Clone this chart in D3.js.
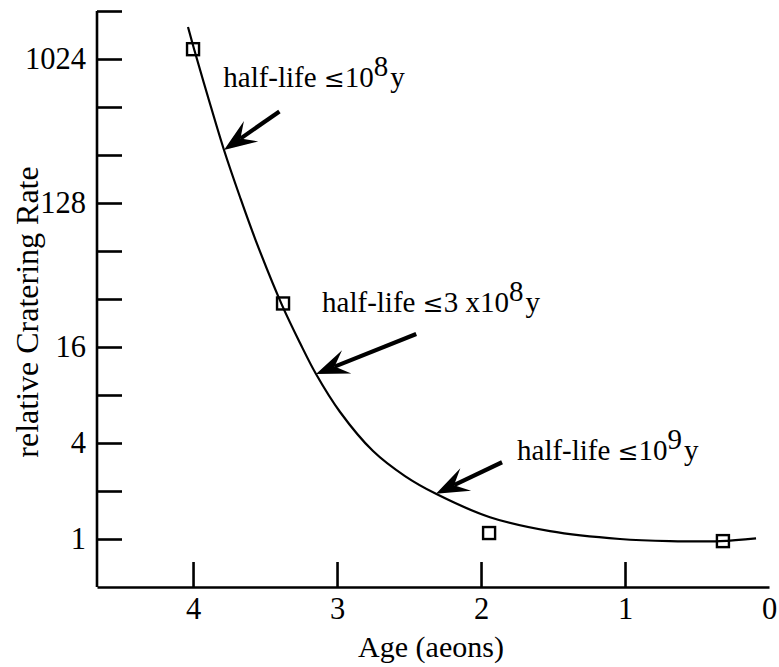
<!DOCTYPE html>
<html>
<head>
<meta charset="utf-8">
<script src="https://cdn.jsdelivr.net/npm/d3@7"></script>
<style>
  html, body { margin: 0; padding: 0; background: #fff; }
  svg { display: block; }
  text { font-family: "Liberation Serif", "Times New Roman", serif; fill: #000; }
</style>
</head>
<body>
<svg id="chart" width="779" height="667"></svg>
<script>
// ---- data ----
const curveAge   = [4.035, 3.993, 3.896, 3.785, 3.674, 3.563, 3.382, 3.257, 3.146, 2.979, 2.750, 2.528, 2.313, 1.938, 1.521, 1.035, 0.688, 0.340, 0.090];
const curveRate  = [1625, 1183, 591.6, 275.2, 139.6, 73.9, 29.3, 16.95, 10.83, 6.26, 3.56, 2.48, 1.92, 1.37, 1.12, 1.0, 0.97, 0.97, 1.01];
const pointAge   = [4.0, 3.375, 1.944, 0.32];
const pointRate  = [1180, 30, 1.09, 0.97];
const yTickValues = [1, 2, 4, 8, 16, 32, 64, 128, 256, 512, 1024, 2048];
const yTickLabels = ["1", "", "4", "", "16", "", "", "128", "", "", "1024", ""];
const xTickValues = [4, 3, 2, 1, 0];
const xTickLabels = ["4", "3", "2", "1", "0"];
const annoText   = ["half-life ", "half-life ", "half-life "];
const annoRel    = ["\u2264", "\u2264", "\u2264"];
const annoNum    = ["10", "3 x10", "10"];
const annoSup    = ["8", "8", "9"];
const annoTail   = ["y", "y", "y"];
// annotation anchors in data coordinates (age, rate)
const annoLabelAt = [[3.79, 684], [3.104, 26.5], [1.75, 3.13]];
const arrowFrom   = [[3.40, 480], [2.45, 19.3], [1.854, 3.03]];
const arrowTo     = [[3.785, 275], [3.146, 10.83], [2.313, 1.92]];

// ---- layout ----
const svg = d3.select("#chart");
const x = d3.scaleLinear().domain([4.667, 0]).range([97, 769]);
const y = d3.scaleLog().base(2).domain([0.5, 2048]).range([587, 11]);
const FS = 29, TFS = 30.5;

// axes
const yAxis = d3.axisLeft(y).tickValues(yTickValues)
  .tickFormat((d, i) => yTickLabels[i]).tickSize(-25).tickSizeOuter(0).tickPadding(11);
const gy = svg.append("g").attr("transform", `translate(${x.range()[0]},0)`).call(yAxis);
gy.select(".domain").attr("d", `M0,${y(2048)}V${y(0.5)}`);

const xAxis = d3.axisBottom(x).tickValues(xTickValues)
  .tickFormat((d, i) => xTickLabels[i]).tickSize(-25).tickSizeOuter(0).tickPadding(10);
const gx = svg.append("g").attr("transform", `translate(0,${y.range()[0]})`).call(xAxis);
gx.selectAll(".tick").filter(d => d === 0).select("line").remove();

[gx, gy].forEach(g => {
  g.select(".domain").attr("stroke", "#000").attr("stroke-width", 2.6).attr("fill", "none");
  g.selectAll(".tick line").attr("stroke", "#000").attr("stroke-width", 2.6);
  g.selectAll(".tick text").attr("font-size", TFS).attr("font-family", "Liberation Serif, serif").attr("fill", "#000");
});
gx.selectAll(".tick text").attr("dy", "0.72em");

// axis titles
svg.append("text").attr("x", 431).attr("y", 657)
  .attr("text-anchor", "middle").attr("font-size", 30).text("Age (aeons)");
svg.append("text").attr("transform", `translate(38,312) rotate(-90)`)
  .attr("text-anchor", "middle").attr("font-size", 32).text("relative Cratering Rate");

// curve
const curveData = curveAge.map((a, i) => [a, curveRate[i]]);
const line = d3.line().x(d => x(d[0])).y(d => y(d[1])).curve(d3.curveCatmullRom.alpha(0.5));
svg.append("path").datum(curveData).attr("d", line)
  .attr("fill", "none").attr("stroke", "#000").attr("stroke-width", 2.2);

// squares
const S = 12;
svg.selectAll("rect.pt").data(pointAge.map((a, i) => [a, pointRate[i]])).enter()
  .append("rect").attr("class", "pt")
  .attr("x", d => x(d[0]) - S / 2).attr("y", d => y(d[1]) - S / 2)
  .attr("width", S).attr("height", S)
  .attr("fill", "none").attr("stroke", "#000").attr("stroke-width", 2.4);

// arrows
arrowFrom.forEach((f, i) => {
  const t = arrowTo[i];
  const x0 = x(f[0]), y0 = y(f[1]), x1 = x(t[0]), y1 = y(t[1]);
  const dx = x0 - x1, dy = y0 - y1, L = Math.hypot(dx, dy);
  const ux = dx / L, uy = dy / L, px = -uy, py = ux;
  const HL = 33, HW = 12.5, NT = 20;
  svg.append("line").attr("x1", x0).attr("y1", y0)
    .attr("x2", x1 + ux * NT).attr("y2", y1 + uy * NT)
    .attr("stroke", "#000").attr("stroke-width", 4.2);
  const pts = [
    [x1, y1],
    [x1 + ux * HL + px * HW, y1 + uy * HL + py * HW],
    [x1 + ux * NT, y1 + uy * NT],
    [x1 + ux * HL - px * HW, y1 + uy * HL - py * HW]
  ];
  svg.append("path").attr("d", "M" + pts.map(p => p.join(",")).join("L") + "Z").attr("fill", "#000");
});

// annotation texts
annoText.forEach((s, i) => {
  const p = annoLabelAt[i];
  const t = svg.append("text").attr("x", x(p[0])).attr("y", y(p[1])).attr("font-size", FS);
  t.append("tspan").text(s);
  t.append("tspan").attr("font-family", "DejaVu Serif, serif").attr("font-size", 25).text(annoRel[i]);
  t.append("tspan").text(annoNum[i]);
  t.append("tspan").attr("dy", -11).text(annoSup[i]);
  t.append("tspan").attr("dy", 11).attr("dx", 2).text(annoTail[i]);
});
</script>
</body>
</html>
